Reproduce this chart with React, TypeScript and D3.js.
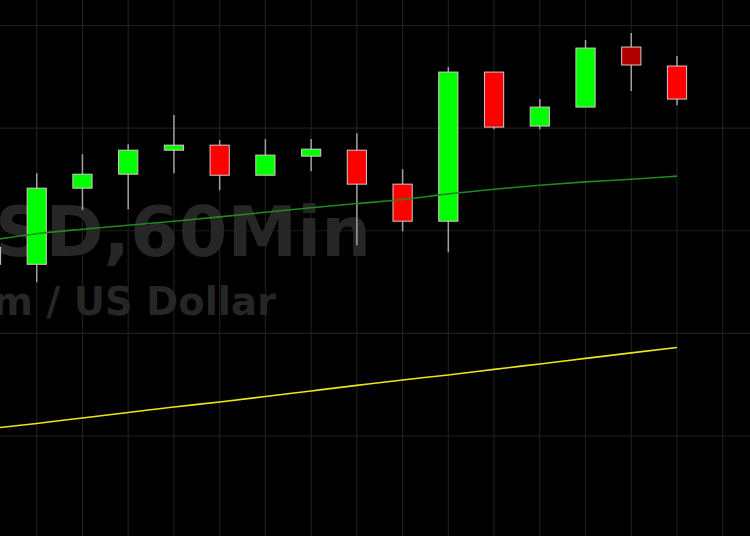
import React from "react";
import * as d3 from "d3";

const width = 750;
const height = 536;

// hourly candles, oldest first (index 0 sits just off the left edge)
const opens = [2038.39, 2036.73, 2044.15, 2045.51, 2047.85, 2048.34, 2045.41, 2047.27, 2047.85, 2044.54, 2040.93, 2055.46, 2050.2, 2052.05, 2057.9, 2056.05];
const highs = [2039.07, 2045.61, 2047.46, 2048.44, 2051.27, 2048.83, 2048.93, 2048.93, 2049.51, 2046.0, 2055.95, 2055.46, 2052.83, 2058.59, 2059.27, 2057.02];
const lows = [2036.15, 2034.98, 2042.0, 2042.1, 2045.61, 2043.95, 2045.41, 2045.8, 2038.59, 2039.95, 2037.9, 2049.9, 2049.9, 2052.05, 2053.61, 2052.24];
const closes = [2036.73, 2044.15, 2045.51, 2047.85, 2048.34, 2045.41, 2047.37, 2047.95, 2044.54, 2040.93, 2055.46, 2050.1, 2052.05, 2057.8, 2056.15, 2052.83];

// moving averages
const maFast = [2039.07, 2039.71, 2040.15, 2040.54, 2040.93, 2041.35, 2041.8, 2042.24, 2042.65, 2043.04, 2043.59, 2044.05, 2044.44, 2044.76, 2045.02, 2045.32];
const maSlow = [2020.73, 2021.22, 2021.76, 2022.29, 2022.83, 2023.32, 2023.85, 2024.39, 2024.93, 2025.46, 2025.95, 2026.49, 2027.02, 2027.56, 2028.1, 2028.63];

// candles flagged by the platform (darker body)
const highlighted = [14];

const priceTicks = [2010, 2020, 2030, 2040, 2050, 2060];

const symbolLabel = "ETHUSD,60Min";
const nameLabel = "Ethereum / US Dollar";

const x = d3.scaleLinear().domain([0, opens.length - 1]).range([-9, 677]);
const y = d3.scaleLinear().domain([2020, 2060]).range([436, 25.5]);

const step = x(1) - x(0);
const bodyW = step * 0.42;

const gridIdx = d3.range(0, opens.length + 2);

const App = () => {
    const line = d3.line<number>()
        .x((_, i) => x(i))
        .y(d => y(d))
        .curve(d3.curveMonotoneX);

    return (
        <svg width={width} height={height} style={{ position: "fixed", left: 0, top: 0, background: "#000" }}>
            <rect width={width} height={height} fill="#000" />
            <g stroke="#1e1e1e" strokeWidth={1.2}>
                {gridIdx.map(i => (
                    <line key={"v" + i} x1={x(i)} x2={x(i)} y1={0} y2={height} />
                ))}
                {priceTicks.map(p => (
                    <line key={"h" + p} x1={0} x2={width} y1={y(p)} y2={y(p)} />
                ))}
            </g>
            <g fill="#262626" fontFamily="DejaVu Sans, Verdana, sans-serif" fontWeight="bold" textAnchor="end">
                <text x={371} y={256} fontSize={70}>{symbolLabel}</text>
                <text x={276} y={315} fontSize={38.5}>{nameLabel}</text>
            </g>
            <g>
                {opens.map((o, i) => {
                    const c = closes[i];
                    const up = c >= o;
                    const fill = up ? "#00ff00" : highlighted.includes(i) ? "#b00000" : "#ff0000";
                    const top = y(Math.max(o, c));
                    const bot = y(Math.min(o, c));
                    return (
                        <g key={i}>
                            <line x1={x(i)} x2={x(i)} y1={y(highs[i])} y2={y(lows[i])} stroke="#a0a0a0" strokeWidth={1.5} />
                            <rect x={x(i) - bodyW / 2} y={top} width={bodyW} height={Math.max(bot - top, 1)}
                                fill={fill} stroke="#d8c8c8" strokeWidth={1} />
                        </g>
                    );
                })}
            </g>
            <path d={line(maFast) ?? ""} fill="none" stroke="#1f8a1f" strokeWidth={1.6} />
            <path d={line(maSlow) ?? ""} fill="none" stroke="#e8e81a" strokeWidth={1.6} />
        </svg>
    );
};

export default App;
